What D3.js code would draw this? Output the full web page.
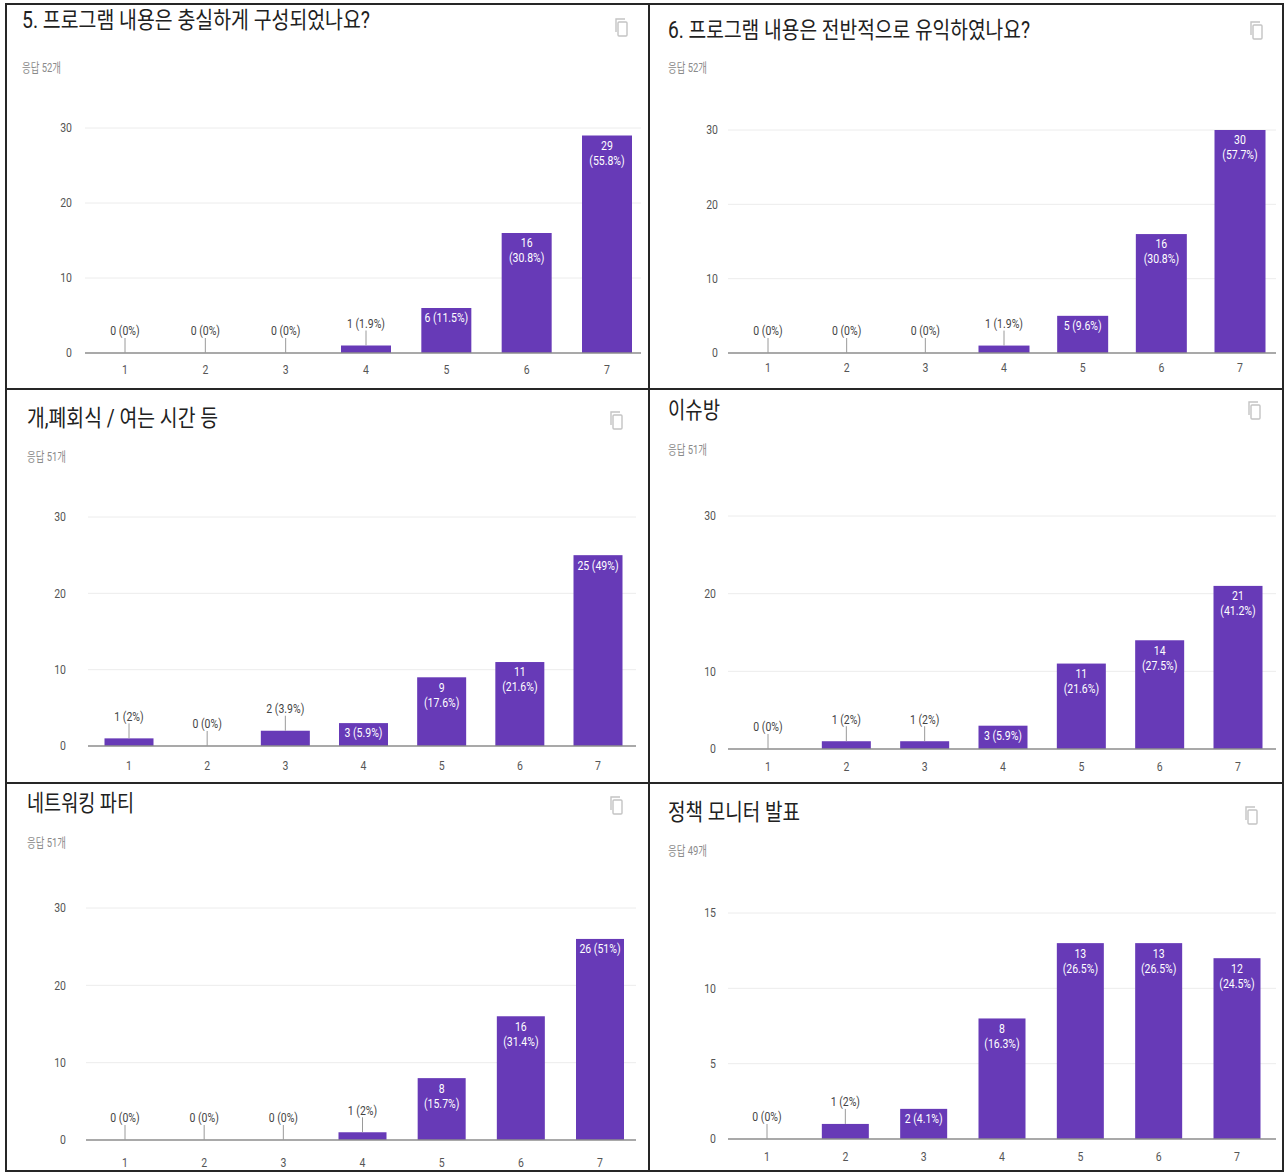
<!DOCTYPE html>
<html>
<head>
<meta charset="utf-8">
<script src="https://cdn.jsdelivr.net/npm/d3@7"></script>
<style>
  html, body { margin: 0; padding: 0; background: #fff; }
  svg { display: block; font-family: Roboto, "Noto Sans CJK KR", sans-serif; }
</style>
</head>
<body>
<div id="chart"></div>
<script>
// answer scale 1..7
const categories = ["1", "2", "3", "4", "5", "6", "7"];

const titles = [
  "5. 프로그램 내용은 충실하게 구성되었나요?",
  "6. 프로그램 내용은 전반적으로 유익하였나요?",
  "개,폐회식 / 여는 시간 등",
  "이슈방",
  "네트워킹 파티",
  "정책 모니터 발표",
];
const responses = [52, 52, 51, 51, 51, 49];

const countsQ5 = [0, 0, 0, 1, 6, 16, 29];
const countsQ6 = [0, 0, 0, 1, 5, 16, 30];
const countsOpening = [1, 0, 2, 3, 9, 11, 25];
const countsIssue = [0, 1, 1, 3, 11, 14, 21];
const countsNetworking = [0, 0, 0, 1, 8, 16, 26];
const countsMonitor = [0, 1, 2, 8, 13, 13, 12];

const ticks30 = [0, 10, 20, 30];
const ticks15 = [0, 5, 10, 15];

const W = 1287, H = 1172;
const purple = "#673ab7";
const squish = 0.84; // the screenshots are squeezed sideways

const svg = d3.select("#chart").append("svg").attr("width", W).attr("height", H);

// panel geometry (each one is pasted a bit differently)
const panels = [
  { counts: countsQ5, ticks: ticks30, tx: 22, ty: 20, tw: 348, sy: 67, ix: 622, iy: 27,
    c1: 125, c7: 607, bw: 50, y0: 353, y1: 128, lx: 72, xy: 370, g0: 85, g1: 641 },
  { counts: countsQ6, ticks: ticks30, tx: 668, ty: 30, tw: 362, sy: 67, ix: 1257, iy: 30,
    c1: 768, c7: 1240, bw: 51, y0: 353, y1: 130, lx: 718, xy: 368, g0: 728, g1: 1276 },
  { counts: countsOpening, ticks: ticks30, tx: 27, ty: 418, tw: 191, sy: 456, ix: 617, iy: 420,
    c1: 129, c7: 598, bw: 49, y0: 746, y1: 517, lx: 66, xy: 766, g0: 88, g1: 636 },
  { counts: countsIssue, ticks: ticks30, tx: 668, ty: 410, tw: 52, sy: 449, ix: 1255, iy: 410,
    c1: 768, c7: 1238, bw: 49, y0: 749, y1: 516, lx: 716, xy: 767, g0: 728, g1: 1276 },
  { counts: countsNetworking, ticks: ticks30, tx: 27, ty: 803, tw: 107, sy: 842, ix: 617, iy: 805,
    c1: 125, c7: 600, bw: 48, y0: 1140, y1: 908, lx: 66, xy: 1163, g0: 86, g1: 636 },
  { counts: countsMonitor, ticks: ticks15, tx: 668, ty: 812, tw: 132, sy: 850, ix: 1252, iy: 815,
    c1: 767, c7: 1237, bw: 47, y0: 1139, y1: 913, lx: 716, xy: 1157, g0: 728, g1: 1276 },
];

const f1 = d3.format(".1f");
function pct(v, total) {
  const s = f1((v / total) * 100);
  return s.endsWith(".0") ? s.slice(0, -2) : s;
}
// rough width of a label in "digit units" ("1" is narrow)
function estWidth(s) {
  const ones = (s.match(/1/g) || []).length;
  return s.length - ones * 0.5;
}

// small condensed label
function label(g, x, y, txt, anchor, color) {
  return g.append("text")
    .attr("transform", `translate(${x},${y}) scale(${squish},1)`)
    .attr("dy", "0.35em")
    .attr("text-anchor", anchor)
    .attr("font-size", 12.5)
    .attr("fill", color)
    .text(txt);
}

panels.forEach((p, i) => {
  const g = svg.append("g");
  const total = responses[i];

  g.append("text")
    .attr("x", p.tx).attr("y", p.ty).attr("dy", "0.35em")
    .attr("font-size", 23).attr("fill", "#212121")
    .attr("textLength", p.tw).attr("lengthAdjust", "spacingAndGlyphs")
    .text(titles[i]);

  g.append("text")
    .attr("x", p.tx).attr("y", p.sy).attr("dy", "0.35em")
    .attr("font-size", 13).attr("fill", "#8a8a8a")
    .attr("textLength", 39).attr("lengthAdjust", "spacingAndGlyphs")
    .text(`응답 ${total}개`);

  // copy icon
  const ic = g.append("g").attr("transform", `translate(${p.ix},${p.iy})`)
    .attr("fill", "none").attr("stroke", "#c4c4c4").attr("stroke-width", 1.4);
  ic.append("rect").attr("x", -4).attr("y", -5).attr("width", 9).attr("height", 14).attr("rx", 1);
  ic.append("path").attr("d", "M-6,5 V-8 H3");

  const step = (p.c7 - p.c1) / 6;
  const x = d3.scaleBand()
    .domain(categories)
    .range([p.c1 - step / 2, p.c7 + step / 2])
    .paddingInner(1 - p.bw / step)
    .paddingOuter((1 - p.bw / step) / 2);
  const maxT = d3.max(p.ticks);
  const y = d3.scaleLinear().domain([0, maxT]).range([p.y0, p.y1]);

  // grid
  g.selectAll(".grid").data(p.ticks.filter((t) => t > 0)).join("line")
    .attr("x1", p.g0).attr("x2", p.g1)
    .attr("y1", (d) => y(d)).attr("y2", (d) => y(d))
    .attr("stroke", "#ececec").attr("stroke-width", 1);

  p.ticks.forEach((t) => label(g, p.lx, y(t), t, "end", "#555"));

  const rows = categories.map((c, k) => ({ c, v: p.counts[k] }));

  g.selectAll(".bar").data(rows.filter((d) => d.v > 0)).join("rect")
    .attr("x", (d) => x(d.c)).attr("width", x.bandwidth())
    .attr("y", (d) => y(d.v)).attr("height", (d) => p.y0 - y(d.v))
    .attr("fill", purple);

  // baseline
  g.append("line")
    .attr("x1", p.g0).attr("x2", p.g1).attr("y1", p.y0).attr("y2", p.y0)
    .attr("stroke", "#8c8c8c").attr("stroke-width", 1.6);

  categories.forEach((c) => label(g, x(c) + x.bandwidth() / 2, p.xy, c, "middle", "#555"));

  // value labels
  rows.forEach((d) => {
    const cx = x(d.c) + x.bandwidth() / 2;
    const top = y(d.v);
    const h = p.y0 - top;
    const pc = `(${pct(d.v, total)}%)`;
    const one = `${d.v} ${pc}`;
    if (h < 20) {
      g.append("line")
        .attr("x1", cx).attr("x2", cx).attr("y1", top - 15).attr("y2", top)
        .attr("stroke", "#9a9a9a").attr("stroke-width", 1);
      label(g, cx, top - 22, one, "middle", "#444");
    } else if (estWidth(one) > 8 && h >= 34) {
      label(g, cx, top + 10, d.v, "middle", "#fff");
      label(g, cx, top + 25, pc, "middle", "#fff");
    } else {
      label(g, cx, top + 10, one, "middle", "#fff");
    }
  });
});

// table borders
const border = svg.append("g").attr("stroke", "#262626").attr("stroke-width", 2).attr("fill", "none");
border.append("rect").attr("x", 6).attr("y", 4).attr("width", 1277).attr("height", 1167);
border.append("line").attr("x1", 649).attr("x2", 649).attr("y1", 4).attr("y2", 1171);
border.append("line").attr("x1", 6).attr("x2", 1283).attr("y1", 389).attr("y2", 389);
border.append("line").attr("x1", 6).attr("x2", 1283).attr("y1", 783).attr("y2", 783);
</script>
</body>
</html>
